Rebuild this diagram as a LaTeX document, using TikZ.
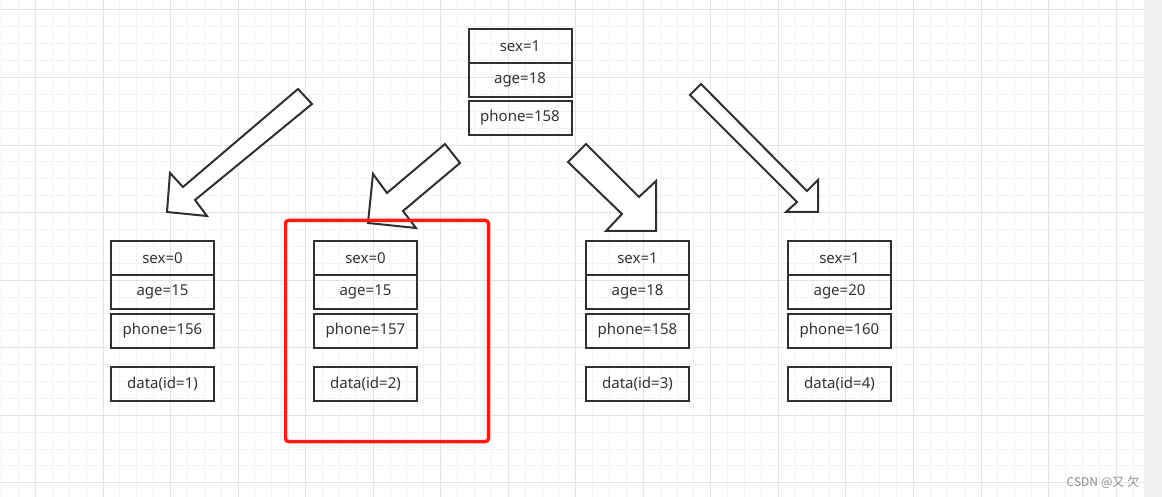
\documentclass[tikz,border=0pt]{standalone}
\usepackage{fontspec}
\setmainfont{Noto Sans}
\newfontfamily\cjkfont{Noto Sans CJK SC}
\usetikzlibrary{positioning}
\definecolor{boxline}{HTML}{303030}
\definecolor{boxtext}{HTML}{333333}
\definecolor{hilite}{HTML}{FF1A12}
\definecolor{gridminor}{HTML}{F2F2F2}
\definecolor{gridmajor}{HTML}{E4E4E4}
\definecolor{sidebar}{HTML}{F0F0F0}
\definecolor{marktext}{HTML}{8C8C8C}
\begin{document}
\begin{tikzpicture}
    [x=1pt,y=-1pt,node distance=0pt,
     cell/.style={draw=boxline,line width=2pt,minimum width=103pt,minimum height=34pt,
       inner sep=0pt,outer sep=0pt,text=boxtext,font=\fontsize{15}{18}\selectfont},
     fat/.style={draw=boxline,fill=white,line width=2pt,line join=miter}]
  \useasboundingbox (0,0) rectangle (1162,497);
  \fill [white] (0,0) rectangle (1144,497);
  \fill [sidebar] (1144,0) rectangle (1162,497);
  \foreach \i in {0,...,67}
    \draw [gridminor,line width=1pt] ({1.7+\i*16.885},0) -- ++(0,497);
  \foreach \j in {0,...,28}
    \draw [gridminor,line width=1pt] (0,{10+\j*16.885}) -- ++(1144,0);
  \foreach \i in {0,...,16}
    \draw [gridmajor,line width=1pt] ({35.5+\i*67.54},0) -- ++(0,497);
  \foreach \j in {0,...,7}
    \draw [gridmajor,line width=1pt] (0,{10+\j*67.54}) -- ++(1144,0);

  \node [cell] (T1) at (520,46) {sex=1};
  \node [cell,below=of T1] (T2) {age=18};
  \node [cell,below=4pt of T2] (T3) {phone=158};

  \foreach \x/\n/\s/\a/\p in {162.5/1/0/15/156,365.5/2/0/15/157,637.5/3/1/18/158,839.5/4/1/20/160} {
    \node [cell] (S\n) at (\x,258) {sex=\s};
    \node [cell,below=of S\n] (A\n) {age=\a};
    \node [cell,below=5pt of A\n] (P\n) {phone=\p};
    \node [cell,below=19pt of P\n] (D\n) {data(id=\n)};
  }

  \draw [fat] (298,89) -- (312,104) -- (195,200) -- (207,216) -- (167,212) -- (170,173) -- (183,187) -- cycle;
  \draw [fat] (445,144) -- (460,163) -- (403,211) -- (416,228) -- (368,223) -- (373,174) -- (387,193) -- cycle;
  \draw [fat] (586,144) -- (639,197) -- (656,181) -- (656,231) -- (606,231) -- (622,214) -- (568,162) -- cycle;
  \draw [fat] (701,84) -- (807,191) -- (818,180) -- (818,212) -- (786,212) -- (797,202) -- (690,95) -- cycle;

  \draw [hilite,line width=3.5pt,rounded corners=3pt] (285.5,220.5) rectangle (488.5,441.5);

  \node [anchor=east,text=marktext,font=\cjkfont\fontsize{12}{14}\selectfont] (mark) at (1143,482) {CSDN\hspace{3pt}@又\hspace{3pt}欠};
\end{tikzpicture}
\end{document}
